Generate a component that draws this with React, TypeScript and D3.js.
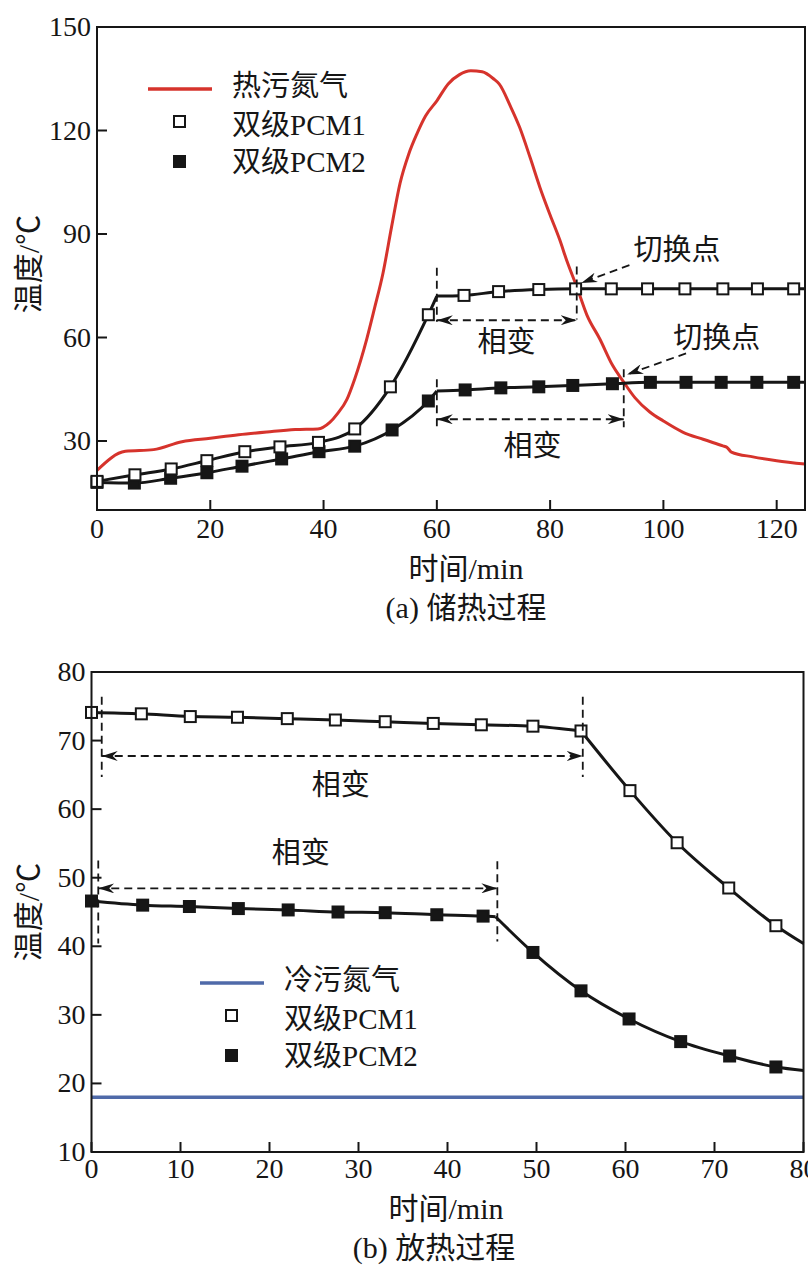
import * as d3 from 'd3';

type Pt = [number, number];

// ---------- (a) 储热过程 ----------
const chargeXTicks = [0, 20, 40, 60, 80, 100, 120];
const chargeYTicks = [30, 60, 90, 120, 150];

// 热污氮气 (red curve)
const hotN2: Pt[] = [
  [0, 21.5], [5, 27], [10, 27.5], [15, 29.8], [20, 30.8], [25, 31.8], [30, 32.6],
  [35, 33.3], [39, 33.5], [41.1, 35.4], [42.5, 38], [44.1, 42], [45.5, 48], [47.6, 59.4],
  [49, 68.5], [50.5, 78.7], [52, 92], [53.5, 104.7], [55, 113], [56.5, 119.1], [58, 124.2],
  [60, 128.6], [62, 133.5], [64, 136.2], [66, 137.3], [68, 137], [70, 135], [71, 133.5],
  [73, 127], [74.6, 121], [76.5, 112], [78.2, 103.5], [80, 95.5], [81.7, 88.3], [83, 82],
  [84.7, 74.7], [86.5, 66.5], [88.8, 59.5], [91, 52], [92.9, 47.3], [95, 42.5],
  [97.6, 38.4], [100, 35.8], [103.4, 32.6], [107, 30.5], [110.5, 28.6], [111.2, 28.2],
  [112, 26.8], [115.8, 25.4], [120, 24.3], [125, 23.3],
];

const chargePcm1: Pt[] = [
  [0, 18.3], [6.7, 20.2], [13.1, 21.9], [19.4, 24.3], [26.1, 26.9], [32.3, 28.3],
  [39.1, 29.6], [45.5, 33.5], [51.8, 45.7], [58.5, 66.6], [64.8, 72.2], [70.9, 73.3],
  [78, 73.9], [84.5, 74.1], [90.8, 74.1], [97.2, 74.1], [103.8, 74.1], [110.5, 74.1],
  [116.6, 74.1], [123, 74.1],
];
const chargePcm1Corner: Pt = [60, 72];
const chargePcm1End: Pt = [125, 74.1];

const chargePcm2: Pt[] = [
  [0, 18], [6.6, 17.8], [13, 19.2], [19.4, 20.8], [25.6, 22.7], [32.6, 24.8],
  [39.2, 26.9], [45.5, 28.5], [52.1, 33.2], [58.5, 41.6], [65, 44.8], [71.3, 45.4],
  [78, 45.7], [84, 46.1], [91, 46.6], [97.7, 47], [104, 47], [110.2, 47],
  [116.5, 47], [123, 47],
];
const chargePcm2Corner: Pt = [60, 44.5];
const chargePcm2End: Pt = [125, 47];

// ---------- (b) 放热过程 ----------
const dischargeXTicks = [0, 10, 20, 30, 40, 50, 60, 70, 80];
const dischargeYTicks = [10, 20, 30, 40, 50, 60, 70, 80];

const coldN2: Pt[] = [[0, 18], [80, 18]];

const dischargePcm1: Pt[] = [
  [0, 74.1], [5.6, 73.9], [11.1, 73.5], [16.4, 73.4], [22, 73.2], [27.4, 73],
  [33, 72.75], [38.4, 72.5], [43.8, 72.3], [49.6, 72.1], [55, 71.4], [60.5, 62.7],
  [65.8, 55.1], [71.6, 48.5], [76.9, 43],
];
const dischargePcm1Corner: Pt = [55, 71.4];
const dischargePcm1End: Pt = [80, 40.4];

const dischargePcm2: Pt[] = [
  [0, 46.6], [5.75, 46], [11, 45.8], [16.5, 45.5], [22.1, 45.3], [27.7, 45],
  [33, 44.9], [38.8, 44.6], [44, 44.4], [49.6, 39.1], [55, 33.5], [60.4, 29.4],
  [66.2, 26.1], [71.7, 24], [76.9, 22.4],
];
const dischargePcm2Corner: Pt = [45.4, 44.3];
const dischargePcm2End: Pt = [80, 21.9];

const FONT = "'Liberation Serif', 'Noto Sans CJK SC', serif";
const INK = '#161616';
const RED = '#d6332c';
const BLUE = '#4f6aa9';

// split a polyline into two smooth pieces that meet at a sharp corner
function splitAtCorner(markers: Pt[], corner: Pt, end: Pt): Pt[][] {
  const all = [...markers, corner, end].sort((a, b) => a[0] - b[0]);
  const pts = all.filter((p, i) => i === 0 || p[0] !== all[i - 1][0]);
  return [pts.filter(p => p[0] <= corner[0]), pts.filter(p => p[0] >= corner[0])];
}

type Scale = d3.ScaleLinear<number, number>;

function Axes({ x, y, xTicks, yTicks, xLabelDy }: {
  x: Scale; y: Scale; xTicks: number[]; yTicks: number[]; xLabelDy: number;
}) {
  const [x0, x1] = x.range();
  const [y0, y1] = y.range();
  return (
    <g>
      <rect x={x0} y={y1} width={x1 - x0} height={y0 - y1} fill="none" stroke={INK} strokeWidth={2} />
      {xTicks.map(t => (
        <g key={'x' + t}>
          <line x1={x(t)} x2={x(t)} y1={y0} y2={y0 - 10} stroke={INK} strokeWidth={2} />
          <text x={x(t)} y={y0 + xLabelDy} textAnchor="middle" fontSize={28}>{t}</text>
        </g>
      ))}
      {yTicks.map(t => (
        <g key={'y' + t}>
          <line x1={x0} x2={x0 + 10} y1={y(t)} y2={y(t)} stroke={INK} strokeWidth={2} />
          <text x={x0 - 6} y={y(t) + 9} textAnchor="end" fontSize={28}>{t}</text>
        </g>
      ))}
    </g>
  );
}

function Squares({ data, x, y, filled }: { data: Pt[]; x: Scale; y: Scale; filled: boolean }) {
  const s = 11;
  return (
    <g>
      {data.map((d, i) => (
        <rect key={i} x={x(d[0]) - s / 2} y={y(d[1]) - s / 2} width={s} height={s}
          fill={filled ? INK : '#fff'} stroke={INK} strokeWidth={2} />
      ))}
    </g>
  );
}

function Dashed({ x1, y1, x2, y2, start, end }: {
  x1: number; y1: number; x2: number; y2: number; start?: boolean; end?: boolean;
}) {
  return (
    <line x1={x1} y1={y1} x2={x2} y2={y2} stroke={INK} strokeWidth={1.8}
      strokeDasharray="8,5"
      markerStart={start ? 'url(#ah)' : undefined}
      markerEnd={end ? 'url(#ah)' : undefined} />
  );
}

function Legend({ x, y, lineColor, lineLabel }: { x: number; y: number; lineColor: string; lineLabel: string }) {
  // x = left of line sample, y = centre of first row
  return (
    <g fontSize={29}>
      <line x1={x} x2={x + 64} y1={y + 3} y2={y + 3} stroke={lineColor} strokeWidth={3.5} />
      <text x={x + 84} y={y} dominantBaseline="central">{lineLabel}</text>
      <rect x={x + 26} y={y + 30} width={11} height={11} fill="#fff" stroke={INK} strokeWidth={2} />
      <text x={x + 84} y={y + 39} dominantBaseline="central">双级PCM1</text>
      <rect x={x + 26} y={y + 70} width={11} height={11} fill={INK} stroke={INK} strokeWidth={2} />
      <text x={x + 84} y={y + 76} dominantBaseline="central">双级PCM2</text>
    </g>
  );
}

function ChargePanel() {
  const x = d3.scaleLinear().domain([0, 125]).range([97, 805]);
  const y = d3.scaleLinear().domain([10, 150]).range([510, 27]);
  const smooth = d3.line<Pt>().x(d => x(d[0])).y(d => y(d[1])).curve(d3.curveMonotoneX);
  const pcm1 = splitAtCorner(chargePcm1, chargePcm1Corner, chargePcm1End);
  const pcm2 = splitAtCorner(chargePcm2, chargePcm2Corner, chargePcm2End);
  return (
    <g>
      <path d={smooth(hotN2) ?? ''} fill="none" stroke={RED} strokeWidth={3} />
      {[...pcm2, ...pcm1].map((seg, i) => (
        <path key={i} d={smooth(seg) ?? ''} fill="none" stroke={INK} strokeWidth={3} />
      ))}
      <Squares data={chargePcm2} x={x} y={y} filled />
      <Squares data={chargePcm1} x={x} y={y} filled={false} />

      {/* phase-change spans */}
      <Dashed x1={x(60)} y1={y(80.2)} x2={x(60)} y2={y(64.6)} />
      <Dashed x1={x(84.7)} y1={y(80.6)} x2={x(84.7)} y2={y(65.2)} />
      <Dashed x1={x(60)} y1={y(65)} x2={x(84.7)} y2={y(65)} start end />
      <Dashed x1={x(60)} y1={y(47.9)} x2={x(60)} y2={y(33.5)} />
      <Dashed x1={x(93)} y1={y(50.8)} x2={x(93)} y2={y(34)} />
      <Dashed x1={x(60)} y1={y(36.3)} x2={x(93)} y2={y(36.3)} start end />
      <Dashed x1={x(94)} y1={y(81)} x2={x(85.5)} y2={y(75.8)} end />
      <Dashed x1={x(104)} y1={y(55.4)} x2={x(93.6)} y2={y(49.3)} end />
      <g fontSize={29} textAnchor="middle" dominantBaseline="central">
        <text x={x(72.3)} y={y(58.6)}>相变</text>
        <text x={x(76.9)} y={y(28.6)}>相变</text>
        <text x={x(102.4)} y={y(85.4)}>切换点</text>
        <text x={x(109.4)} y={y(60)}>切换点</text>
      </g>

      <Axes x={x} y={y} xTicks={chargeXTicks} yTicks={chargeYTicks} xLabelDy={28} />
      <Legend x={148} y={86} lineColor={RED} lineLabel="热污氮气" />
      <text x={28} y={264} fontSize={30} textAnchor="middle" dominantBaseline="central"
        transform="rotate(-90 28 264)">温度/℃</text>
      <text x={466} y={568} fontSize={30} textAnchor="middle" dominantBaseline="central">时间/min</text>
      <text x={466} y={607} fontSize={30} textAnchor="middle" dominantBaseline="central">(a) 储热过程</text>
    </g>
  );
}

function DischargePanel() {
  const x = d3.scaleLinear().domain([0, 80]).range([91.5, 803.5]);
  const y = d3.scaleLinear().domain([10, 80]).range([1152, 672]);
  const smooth = d3.line<Pt>().x(d => x(d[0])).y(d => y(d[1])).curve(d3.curveMonotoneX);
  const pcm1 = splitAtCorner(dischargePcm1, dischargePcm1Corner, dischargePcm1End);
  const pcm2 = splitAtCorner(dischargePcm2, dischargePcm2Corner, dischargePcm2End);
  return (
    <g>
      <path d={smooth(coldN2) ?? ''} fill="none" stroke={BLUE} strokeWidth={3.5} />
      {[...pcm2, ...pcm1].map((seg, i) => (
        <path key={i} d={smooth(seg) ?? ''} fill="none" stroke={INK} strokeWidth={3} />
      ))}
      <Squares data={dischargePcm2} x={x} y={y} filled />
      <Squares data={dischargePcm1} x={x} y={y} filled={false} />

      <Dashed x1={x(1.15)} y1={y(76.4)} x2={x(1.15)} y2={y(64.7)} />
      <Dashed x1={x(55.2)} y1={y(76.4)} x2={x(55.2)} y2={y(64.7)} />
      <Dashed x1={x(1.15)} y1={y(67.75)} x2={x(55.2)} y2={y(67.75)} start end />
      <Dashed x1={x(0.76)} y1={y(52.5)} x2={x(0.76)} y2={y(40.4)} />
      <Dashed x1={x(45.6)} y1={y(52.4)} x2={x(45.6)} y2={y(40.7)} />
      <Dashed x1={x(0.76)} y1={y(48.45)} x2={x(45.6)} y2={y(48.45)} start end />
      <g fontSize={29} textAnchor="middle" dominantBaseline="central">
        <text x={x(28)} y={y(63.5)}>相变</text>
        <text x={x(23.5)} y={y(53.6)}>相变</text>
      </g>

      <Axes x={x} y={y} xTicks={dischargeXTicks} yTicks={dischargeYTicks} xLabelDy={26} />
      <Legend x={200} y={980} lineColor={BLUE} lineLabel="冷污氮气" />
      <text x={28} y={912} fontSize={30} textAnchor="middle" dominantBaseline="central"
        transform="rotate(-90 28 912)">温度/℃</text>
      <text x={446} y={1208} fontSize={30} textAnchor="middle" dominantBaseline="central">时间/min</text>
      <text x={434} y={1247} fontSize={30} textAnchor="middle" dominantBaseline="central">(b) 放热过程</text>
    </g>
  );
}

export default function App() {
  return (
    <svg width={808} height={1279} viewBox="0 0 808 1279"
      style={{ position: 'absolute', left: 0, top: 0, display: 'block', background: '#fff' }}
      fontFamily={FONT} fill={INK}>
      <defs>
        <marker id="ah" viewBox="0 0 16 10" refX={16} refY={5} markerWidth={16} markerHeight={10}
          markerUnits="userSpaceOnUse" orient="auto-start-reverse">
          <path d="M0,0 L16,5 L0,10 L5,5 Z" fill={INK} />
        </marker>
      </defs>
      <ChargePanel />
      <DischargePanel />
    </svg>
  );
}
